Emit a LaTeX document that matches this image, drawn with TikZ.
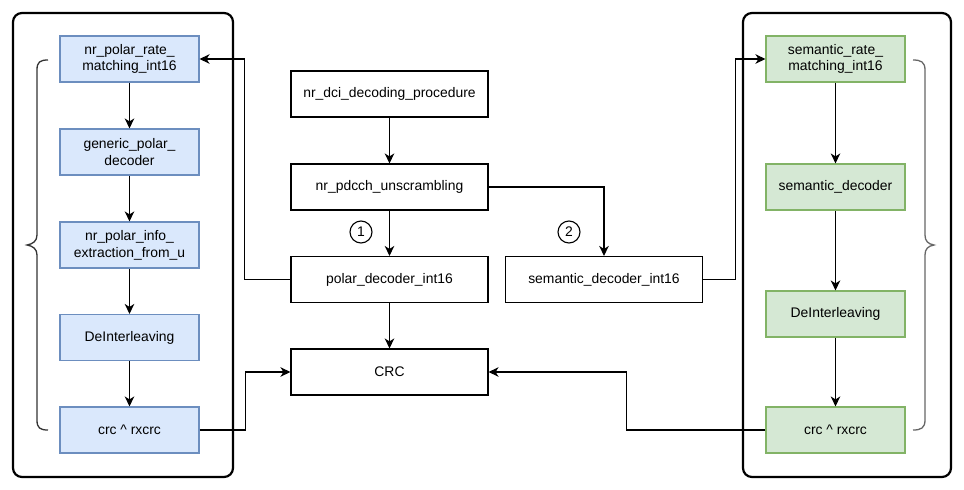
\documentclass[tikz,border=0pt]{standalone}
\usepackage{fontspec}
\setmainfont{Liberation Sans}
\usetikzlibrary{arrows.meta}
\definecolor{bfill}{HTML}{DAE8FC}
\definecolor{bdraw}{HTML}{6C8EBF}
\definecolor{gfill}{HTML}{D5E8D4}
\definecolor{gdraw}{HTML}{82B366}
\definecolor{bracecolL}{HTML}{333333}
\definecolor{bracecolR}{HTML}{666666}
\begin{document}
\begin{tikzpicture}[x=1pt,y=-1pt,
  every node/.style={font=\fontsize{13.9}{16.8}\selectfont},
  plainbox/.style={draw=black, line width=1.1pt, minimum width=197pt, minimum height=46pt, inner sep=0pt, align=center},
  bluebox/.style={draw=bdraw, fill=bfill, line width=1.1pt, minimum width=139pt, minimum height=46pt, inner sep=0pt, align=center},
  greenbox/.style={draw=gdraw, fill=gfill, line width=1.1pt, minimum width=139pt, minimum height=46pt, inner sep=0pt, align=center},
  container/.style={draw=black, line width=2.2pt, rounded corners=9pt, inner sep=0pt},
  circ/.style={draw=black, circle, line width=1.1pt, minimum size=22pt, inner sep=0pt},
  arr/.style={draw=black, line width=1.1pt, -{Stealth[length=10pt,width=9.5pt,inset=3pt]}},
  bracel/.style={line width=1.3pt}
]
\useasboundingbox (0,0) rectangle (964,490);
% containers
\node[container, minimum width=220pt, minimum height=464pt] (lc) at (123,245) {};
\node[container, minimum width=208pt, minimum height=464pt] (rc) at (847,245) {};
% left chain
\node[bluebox] (b1) at (129.5,59) {nr\_polar\_rate\_\\matching\_int16};
\node[bluebox] (b2) at (129.5,152) {generic\_polar\_\\decoder};
\node[bluebox] (b3) at (129.5,245) {nr\_polar\_info\_\\extraction\_from\_u};
\node[bluebox] (b4) at (129.5,337.5) {DeInterleaving};
\node[bluebox] (b5) at (129.5,430) {crc \^{} rxcrc};
% right chain
\node[greenbox] (g1) at (835.5,59) {semantic\_rate\_\\matching\_int16};
\node[greenbox] (g2) at (835.5,187) {semantic\_decoder};
\node[greenbox] (g3) at (835.5,314) {DeInterleaving};
\node[greenbox] (g4) at (835.5,430) {crc \^{} rxcrc};
% center
\node[plainbox] (dci) at (389.5,94) {nr\_dci\_decoding\_procedure};
\node[plainbox] (uns) at (389.5,187) {nr\_pdcch\_unscrambling};
\node[plainbox] (pol) at (389.5,279.5) {polar\_decoder\_int16};
\node[plainbox] (sem) at (604,279.5) {semantic\_decoder\_int16};
\node[plainbox] (crc) at (389.5,372) {CRC};
\node[circ] (n1) at (361,232) {1};
\node[circ] (n2) at (569,232) {2};
% braces
\draw[bracel, draw=bracecolL] (48,60) .. controls (40,60) and (37,62) .. (37,70) -- (37,235)
  .. controls (37,241) and (33,244) .. (27,245)
  .. controls (33,246) and (37,249) .. (37,255) -- (37,420)
  .. controls (37,428) and (40,430) .. (48,430);
\draw[bracel, draw=bracecolR] (913,60) .. controls (921,60) and (925,62) .. (925,70) -- (925,235)
  .. controls (925,241) and (928,244) .. (934,245)
  .. controls (928,246) and (925,249) .. (925,255) -- (925,420)
  .. controls (925,428) and (921,430) .. (913,430);
% chains
\draw[arr] (b1) -- (b2);
\draw[arr] (b2) -- (b3);
\draw[arr] (b3) -- (b4);
\draw[arr] (b4) -- (b5);
\draw[arr] (g1) -- (g2);
\draw[arr] (g2) -- (g3);
\draw[arr] (g3) -- (g4);
% center
\draw[arr] (dci) -- (uns);
\draw[arr] (uns) -- (pol);
\draw[arr] (uns.east) -| (sem.north);
\draw[arr] (pol) -- (crc);
\draw[arr] (pol.west) -- ++(-46,0) |- (b1.east);
\draw[arr] (sem.east) -- ++(32,0) |- (g1.west);
\draw[arr] (b5.east) -- ++(46,0) |- (crc.west);
\draw[arr] (g4.west) -- ++(-139,0) |- (crc.east);
\end{tikzpicture}
\end{document}
